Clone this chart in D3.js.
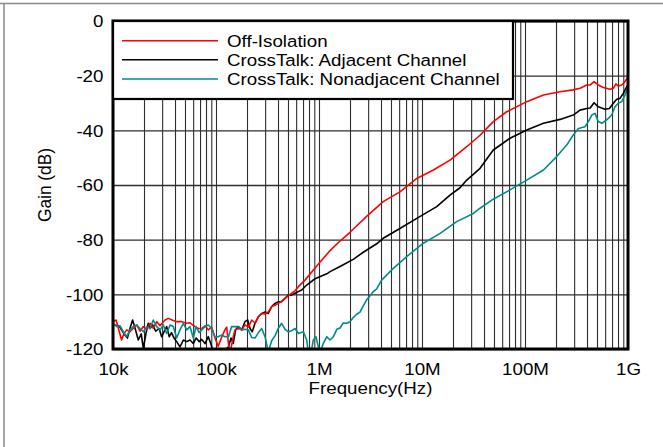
<!DOCTYPE html>
<html>
<head>
<meta charset="utf-8">
<script src="https://cdn.jsdelivr.net/npm/d3@7"></script>
<style>
  html, body { margin: 0; padding: 0; background: #fff; }
  svg { display: block; }
  text { font-family: "Liberation Sans", Arial, sans-serif; fill: #000; }
</style>
</head>
<body>
<svg id="chart" width="663" height="447"></svg>
<script>
// ---------- DATA ----------
const seriesNames = ["Off-Isolation", "CrossTalk: Adjacent Channel", "CrossTalk: Nonadjacent Channel"];
const seriesColors = ["#ff0000", "#000000", "#008b8b"];

const xTickValues = [1e4, 1e5, 1e6, 1e7, 1e8, 1e9];
const xTickLabels = ["10k", "100k", "1M", "10M", "100M", "1G"];
const yTickValues = [0, -20, -40, -60, -80, -100, -120];
const yTickLabels = ["0", "-20", "-40", "-60", "-80", "-100", "-120"];

// [frequency Hz, gain dB]
const offIsolation = [
  [10e3,-110],[10.7e3,-109.4],[11.3e3,-112.5],[12.1e3,-116.7],[12.8e3,-114.3],[13.6e3,-113],[14.6e3,-113.7],
  [15.7e3,-112.5],[17.0e3,-111.2],[18.3e3,-113.5],[19.7e3,-111.8],[21.2e3,-112.8],[22.9e3,-110.6],[24.6e3,-112.4],
  [26.6e3,-110],[28.6e3,-111.5],[32e3,-109.4],[34.4e3,-108.8],[38.5e3,-109.6],[41.5e3,-110],[46.4e3,-110],
  [52e3,-110.6],[55.9e3,-110.4],[62.5e3,-111.8],[67.3e3,-112.5],[72.6e3,-112.5],[78.2e3,-111.5],[84.2e3,-113],
  [90.8e3,-112],[97.8e3,-116],[105e3,-119],[114e3,-115.5],[122e3,-113],[127e3,-112],[132e3,-118],[137e3,-121.5],
  [147e3,-115.5],[153e3,-113],[165e3,-112.5],[178e3,-113],[191e3,-111.2],[206e3,-112],[222e3,-109.4],[239e3,-110.5],
  [258e3,-108.2],[278e3,-107],[299e3,-107.2],[322e3,-106.4],[347e3,-104.5],[374e3,-104],[403e3,-103.3],[434e3,-102.5],
  [468e3,-101.5],[504e3,-100.6],[543e3,-99.6],[585e3,-98.7],[630e3,-97.2],[679e3,-96],[731e3,-94.8],[1.02e6,-88.3],
  [1.28e6,-84],[1.6e6,-80.5],[2.0e6,-77.3],[2.9e6,-71.5],[4.2e6,-66.1],[6.1e6,-62.5],[8.9e6,-57.6],[12.9e6,-54.5],[18.7e6,-50.9],
  [27.2e6,-46],[36.6e6,-41.8],[49.2e6,-36.8],[66.4e6,-33.2],[104e6,-29.5],[151e6,-27.1],[219e6,-25.9],[294e6,-25.2],
  [342e6,-24.6],[397e6,-23.4],[430e6,-23.4],[468e6,-22.2],[515e6,-23.4],[575e6,-24.3],[668e6,-25],[720e6,-24.6],
  [764e6,-23],[805e6,-23.8],[869e6,-23.4],[935e6,-22.2],[1e9,-20.4]
];

const adjacentChannel = [
  [10e3,-111.2],[11.5e3,-111.5],[12.1e3,-113],[13.1e3,-115],[13.8e3,-116],[14.6e3,-112.5],[15.5e3,-109.4],
  [16.4e3,-112.5],[17.6e3,-116.7],[18.8e3,-114.5],[19.7e3,-119.8],[20.9e3,-114.3],[22.0e3,-110.6],[22.9e3,-112.5],
  [24.3e3,-111.2],[26e3,-113.5],[28e3,-112.5],[29.7e3,-115.5],[31.5e3,-113.5],[33.2e3,-111.8],[35.2e3,-115.5],
  [37e3,-114],[39.1e3,-116],[41.5e3,-117.3],[44.7e3,-119.2],[48.2e3,-116.7],[52e3,-117.3],[55.9e3,-116.7],
  [60.2e3,-118],[64.0e3,-116],[68.8e3,-117.3],[72.6e3,-116.5],[78.2e3,-118],[84.2e3,-115.5],[88e3,-117.5],
  [94.2e3,-121],[105e3,-120.5],[114e3,-120],[122e3,-120.4],[132e3,-119.2],[140e3,-116],[147e3,-118],[155e3,-113],
  [165e3,-111.8],[178e3,-113],[191e3,-110],[203e3,-109.4],[214e3,-112.5],[225e3,-113.7],[239e3,-110.6],[258e3,-108.2],
  [278e3,-107],[299e3,-106.5],[322e3,-107],[347e3,-104.5],[374e3,-103.3],[403e3,-102.7],[434e3,-102.7],[468e3,-101.5],
  [504e3,-100.3],[543e3,-100.3],[585e3,-99.6],[630e3,-99],[679e3,-98.4],[760e3,-96.6],[915e3,-94.3],[1.19e6,-92.5],
  [1.28e6,-91.7],[1.6e6,-89.8],[2.15e6,-87.2],[2.69e6,-84.6],[3.63e6,-81.5],[4.2e6,-79.5],[6.1e6,-75.9],[8.9e6,-72.2],
  [13.9e6,-67.9],[18.7e6,-63.7],[23.4e6,-61],[27.2e6,-58.2],[36.6e6,-53.9],[49.2e6,-47.2],[71.5e6,-42.9],[104e6,-39.9],
  [151e6,-37.4],[219e6,-36],[294e6,-34.4],[342e6,-32.6],[397e6,-32],[430e6,-31.8],[468e6,-29.9],[515e6,-31.4],
  [598e6,-32.3],[660e6,-32],[720e6,-30.1],[776e6,-28.6],[836e6,-28.3],[900e6,-26.5],[1e9,-23.2]
];

const nonadjacentChannel = [
  [10e3,-110.6],[10.9e3,-111.8],[11.7e3,-111.5],[12.6e3,-113.7],[13.6e3,-115.5],[14.6e3,-113],[15.7e3,-111.8],
  [17.0e3,-111.2],[18.3e3,-112.5],[19.7e3,-113.7],[21.2e3,-111.8],[22.9e3,-112.5],[24.6e3,-109.4],[26.6e3,-111.8],
  [28.6e3,-113],[30.8e3,-111.2],[33.2e3,-114.3],[35.8e3,-111.2],[38.5e3,-111.8],[41.5e3,-116],[44.7e3,-113],
  [48.2e3,-110.6],[52e3,-113],[55.9e3,-111.8],[60.2e3,-116],[64e3,-111.8],[68.8e3,-114],[72.6e3,-113],[78.2e3,-111.8],
  [84.2e3,-111.2],[90.8e3,-112.5],[97.8e3,-115.5],[105e3,-115.5],[114e3,-114.9],[122e3,-115.5],[132e3,-115.5],
  [142e3,-111.8],[153e3,-111.8],[165e3,-111.8],[178e3,-113],[191e3,-112.8],[206e3,-113],[222e3,-115.8],[239e3,-116],
  [258e3,-114],[278e3,-112.5],[299e3,-115.5],[322e3,-121],[347e3,-117],[374e3,-115.2],[403e3,-112.4],[434e3,-110.6],
  [468e3,-112.8],[504e3,-113.7],[543e3,-113.3],[585e3,-112.5],[630e3,-114.3],[705e3,-113.7],[760e3,-116.7],
  [787e3,-121.5],[836e3,-121.5],[881e3,-116.7],[935e3,-115.5],[985e3,-119.2],[1.02e6,-121.5],[1.10e6,-118],
  [1.19e6,-115.5],[1.28e6,-116.7],[1.38e6,-115.5],[1.49e6,-112.8],[1.6e6,-112.3],[1.72e6,-110.5],[1.86e6,-110.6],
  [2.0e6,-110],[2.15e6,-108.5],[2.32e6,-107.3],[2.5e6,-106.5],[2.69e6,-104.2],[2.9e6,-102],[3.13e6,-100.5],
  [3.37e6,-99],[3.63e6,-98],[4.06e6,-94.8],[5.26e6,-90.5],[7.1e6,-86.2],[10.3e6,-81.3],[15e6,-77.7],[21.7e6,-73.4],
  [31.5e6,-70.4],[36.6e6,-68.5],[49.2e6,-65.2],[71.5e6,-61.8],[104e6,-58.2],[151e6,-54.5],[203e6,-49.6],[254e6,-45.4],
  [294e6,-41.7],[330e6,-39.3],[383e6,-38.7],[412e6,-36.8],[445e6,-34.4],[479e6,-33.8],[515e6,-36.8],[556e6,-37.4],
  [621e6,-36.2],[695e6,-34.4],[748e6,-31.4],[805e6,-30.1],[869e6,-29.5],[935e6,-27.1],[1e9,-24]
];

// ---------- LAYOUT ----------
const W = 663, H = 447;
const plot = { left: 113, right: 628, top: 21, bottom: 349 };
const SX = 1.15;          // horizontal text stretch seen in the reference
const FS = 16.3;

const svg = d3.select("#chart");

// page frame (gray)
svg.append("line").attr("x1", 0).attr("x2", W).attr("y1", 3.5).attr("y2", 3.5)
  .attr("stroke", "#8a8a8a").attr("stroke-width", 1.5);
svg.append("line").attr("x1", 4).attr("x2", 4).attr("y1", 3.5).attr("y2", H)
  .attr("stroke", "#8a8a8a").attr("stroke-width", 1.5);

const x = d3.scaleLog().domain([1e4, 1e9]).range([plot.left, plot.right]);
const y = d3.scaleLinear().domain([-120, 0]).range([plot.bottom, plot.top]);

const pw = plot.right - plot.left, ph = plot.bottom - plot.top;

// vertical grid
svg.append("g")
  .attr("transform", `translate(0,${plot.bottom})`)
  .call(d3.axisBottom(x).ticks(10).tickSize(-ph).tickFormat(""))
  .call(g => g.select(".domain").remove())
  .call(g => g.selectAll("line").attr("stroke", "#2e2e2e").attr("stroke-width", 1.1));

// horizontal grid
svg.append("g")
  .attr("transform", `translate(${plot.left},0)`)
  .call(d3.axisLeft(y).tickValues(yTickValues).tickSize(-pw).tickFormat(""))
  .call(g => g.select(".domain").remove())
  .call(g => g.selectAll("line").attr("stroke", "#2e2e2e").attr("stroke-width", 1.3));

// clip
svg.append("clipPath").attr("id", "clip").append("rect")
  .attr("x", plot.left).attr("y", plot.top).attr("width", pw).attr("height", ph);

const line = d3.line().x(d => x(d[0])).y(d => y(d[1]));
const allSeries = [offIsolation, adjacentChannel, nonadjacentChannel];
const drawOrder = [1, 0, 2];
const gLines = svg.append("g").attr("clip-path", "url(#clip)");
drawOrder.forEach(i => {
  gLines.append("path").datum(allSeries[i])
    .attr("d", line).attr("fill", "none")
    .attr("stroke", seriesColors[i]).attr("stroke-width", 1.6)
    .attr("stroke-linejoin", "round");
});

// plot border
svg.append("rect").attr("x", plot.left).attr("y", plot.top).attr("width", pw).attr("height", ph)
  .attr("fill", "none").attr("stroke", "#000").attr("stroke-width", 3);

// axes labels (tick text)
const xAxis = svg.append("g")
  .attr("transform", `translate(0,${plot.bottom})`)
  .call(d3.axisBottom(x).tickValues(xTickValues).tickFormat((d, i) => xTickLabels[i]).tickSize(0).tickPadding(14.5))
  .call(g => g.select(".domain").remove());
xAxis.selectAll("text").attr("font-size", FS).attr("font-family", "'Liberation Sans', Arial, sans-serif")
  .attr("dy", "0.71em").attr("transform", `scale(${SX},1)`);

const yAxis = svg.append("g")
  .attr("transform", `translate(${plot.left},0)`)
  .call(d3.axisLeft(y).tickValues(yTickValues).tickFormat((d, i) => yTickLabels[i]).tickSize(0).tickPadding(8.3))
  .call(g => g.select(".domain").remove());
yAxis.selectAll("text").attr("font-size", FS).attr("font-family", "'Liberation Sans', Arial, sans-serif")
  .attr("dy", "0.36em").attr("transform", `scale(${SX},1)`);

// axis titles
svg.append("text")
  .attr("transform", `translate(${(plot.left + plot.right) / 2},393.5) scale(${SX},1)`)
  .attr("text-anchor", "middle").attr("font-size", FS).text("Frequency(Hz)");
svg.append("text")
  .attr("transform", `translate(51,${(plot.top + plot.bottom) / 2}) rotate(-90) scale(1.06,1.12)`)
  .attr("text-anchor", "middle").attr("font-size", FS).text("Gain (dB)");

// legend
const legend = svg.append("g");
legend.append("rect").attr("x", plot.left).attr("y", plot.top).attr("width", 400).attr("height", 78)
  .attr("fill", "#fff").attr("stroke", "#000").attr("stroke-width", 2.2);
const legendRows = [40.7, 59.7, 79];
seriesNames.forEach((name, i) => {
  legend.append("line").attr("x1", 122).attr("x2", 218).attr("y1", legendRows[i]).attr("y2", legendRows[i])
    .attr("stroke", seriesColors[i]).attr("stroke-width", 1.6);
  legend.append("text")
    .attr("transform", `translate(227,${legendRows[i] + 6}) scale(${SX},1)`)
    .attr("font-size", FS).text(name);
});
</script>
</body>
</html>
